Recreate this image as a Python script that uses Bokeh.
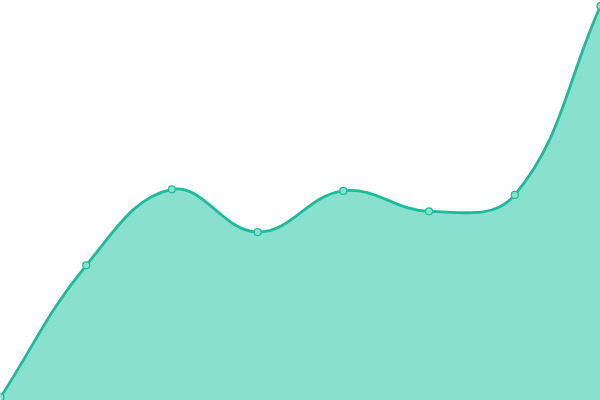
import math
from bokeh.plotting import figure
from bokeh.models import ColumnDataSource, Range1d
from bokeh.embed import file_html
from bokeh.resources import INLINE

# data
labels = ["1", "2", "3", "4", "5", "6", "7", "8"]
values = [0.8, 33.8, 52.8, 42.1, 52.4, 47.3, 51.4, 98.6]

W, H = 600, 400
XMIN, XMAX = 0, len(values) - 1
YMIN, YMAX = 0, 100
TENSION = 0.4

xs = list(range(len(values)))

def to_px(x, y):
    return ((x - XMIN) / (XMAX - XMIN) * W, (y - YMIN) / (YMAX - YMIN) * H)

def to_data(px, py):
    return (px / W * (XMAX - XMIN) + XMIN, py / H * (YMAX - YMIN) + YMIN)

pts = [to_px(x, y) for x, y in zip(xs, values)]
n = len(pts)
prev_cp, next_cp = [], []
for i in range(n):
    p0 = pts[i - 1] if i > 0 else pts[i]
    p1 = pts[i]
    p2 = pts[i + 1] if i < n - 1 else pts[i]
    d01 = math.hypot(p1[0] - p0[0], p1[1] - p0[1])
    d12 = math.hypot(p2[0] - p1[0], p2[1] - p1[1])
    tot = d01 + d12
    s01 = d01 / tot if tot else 0
    s12 = d12 / tot if tot else 0
    fa, fb = TENSION * s01, TENSION * s12
    pc = (p1[0] - fa * (p2[0] - p0[0]), p1[1] - fa * (p2[1] - p0[1]))
    nc = (p1[0] + fb * (p2[0] - p0[0]), p1[1] + fb * (p2[1] - p0[1]))
    clamp = lambda c: (min(max(c[0], 0), W), min(max(c[1], 0), H))
    prev_cp.append(clamp(pc))
    next_cp.append(clamp(nc))

# sample cubic segments for the area
cx, cy = [], []
for i in range(n - 1):
    a, b, c, d = pts[i], next_cp[i], prev_cp[i + 1], pts[i + 1]
    steps = 40
    for k in range(steps + (1 if i == n - 2 else 0)):
        t = k / steps
        mt = 1 - t
        px = mt**3 * a[0] + 3 * mt**2 * t * b[0] + 3 * mt * t**2 * c[0] + t**3 * d[0]
        py = mt**3 * a[1] + 3 * mt**2 * t * b[1] + 3 * mt * t**2 * c[1] + t**3 * d[1]
        dx, dy = to_data(px, py)
        cx.append(dx)
        cy.append(dy)

bez = dict(x0=[], y0=[], x1=[], y1=[], cx0=[], cy0=[], cx1=[], cy1=[])
for i in range(n - 1):
    a = to_data(*pts[i]); d = to_data(*pts[i + 1])
    b = to_data(*next_cp[i]); c = to_data(*prev_cp[i + 1])
    bez["x0"].append(a[0]); bez["y0"].append(a[1])
    bez["x1"].append(d[0]); bez["y1"].append(d[1])
    bez["cx0"].append(b[0]); bez["cy0"].append(b[1])
    bez["cx1"].append(c[0]); bez["cy1"].append(c[1])

p = figure(width=W, height=H, output_backend="svg", toolbar_location=None,
           x_range=Range1d(XMIN, XMAX), y_range=Range1d(YMIN, YMAX),
           min_border=0, min_border_left=0, min_border_right=0,
           min_border_top=0, min_border_bottom=0)
p.axis.visible = False
p.grid.visible = False
p.outline_line_color = None
p.background_fill_color = "white"
p.border_fill_color = "white"

p.varea(x=cx, y1=[YMIN] * len(cx), y2=cy, fill_color="#8ae0cf", fill_alpha=1.0)
p.bezier(x0="x0", y0="y0", x1="x1", y1="y1", cx0="cx0", cy0="cy0", cx1="cx1", cy1="cy1",
         source=ColumnDataSource(bez), line_color="#1abc9c", line_width=2.8)
p.scatter(x=xs, y=values, size=7, fill_color="#8ae0cf", line_color="#1abc9c", line_width=1.2)

open("out.html", "w").write(file_html(p, INLINE))
